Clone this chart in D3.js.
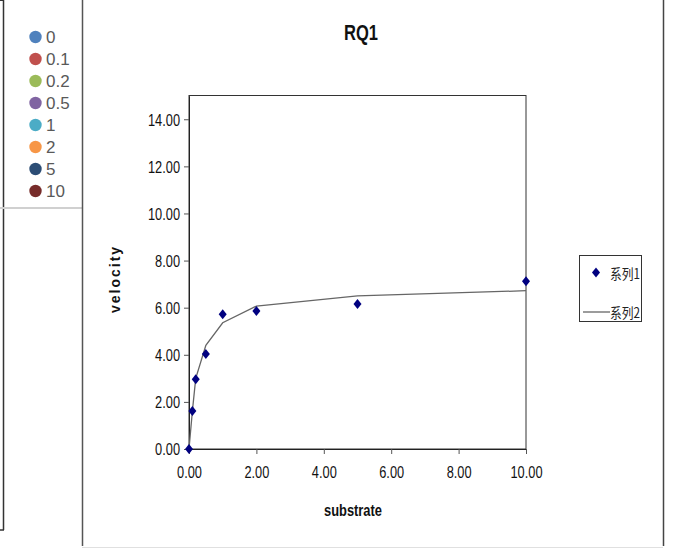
<!DOCTYPE html>
<html><head><meta charset="utf-8">
<script src="https://cdn.jsdelivr.net/npm/d3@7"></script>
<style>
body{margin:0;background:#fff;}
svg{display:block;}
</style></head>
<body><svg id="c" width="675" height="548"></svg>
<script>
const substrate = [0, 0.1, 0.2, 0.5, 1, 2, 5, 10];
const velocityObserved = [0, 1.61, 2.96, 4.03, 5.72, 5.86, 6.16, 7.12];
const velocityFit = [0, 1.6, 3.0, 4.4, 5.36, 6.07, 6.5, 6.72];
const legendLabels = ["0", "0.1", "0.2", "0.5", "1", "2", "5", "10"];
const legendColors = ["#4F81BD", "#C0504D", "#9BBB59", "#8064A2", "#4BACC6", "#F79646", "#2C4D75", "#772C2A"];
const xTicks = [0, 2, 4, 6, 8, 10];
const yTicks = [0, 2, 4, 6, 8, 10, 12, 14];
const seriesNames = ["系列1", "系列2"];

const svg = d3.select("#c");
const font = '"Liberation Sans Narrow","Arial Narrow","Liberation Sans",Arial,sans-serif';

function squeeze(sel, f){
  sel.each(function(){
    const w = this.getComputedTextLength();
    d3.select(this).attr("textLength", w*f).attr("lengthAdjust","spacingAndGlyphs");
  });
}

// frame lines
svg.append("line").attr("x1",3.5).attr("x2",3.5).attr("y1",0).attr("y2",530).attr("stroke","#333").attr("stroke-width",1.5);
svg.append("line").attr("x1",0).attr("x2",4).attr("y1",530).attr("y2",530).attr("stroke","#333").attr("stroke-width",1.5);
svg.append("line").attr("x1",0).attr("x2",4).attr("y1",0.5).attr("y2",0.5).attr("stroke","#333").attr("stroke-width",1);
svg.append("line").attr("x1",0).attr("x2",82).attr("y1",208).attr("y2",208).attr("stroke","#d0d0d0").attr("stroke-width",2);
svg.append("line").attr("x1",82.5).attr("x2",82.5).attr("y1",0).attr("y2",546).attr("stroke","#555").attr("stroke-width",1.5);
svg.append("line").attr("x1",663.5).attr("x2",663.5).attr("y1",0).attr("y2",546).attr("stroke","#444").attr("stroke-width",1.5);
svg.append("line").attr("x1",82).attr("x2",663).attr("y1",547.5).attr("y2",547.5).attr("stroke","#e0e0e0").attr("stroke-width",1);

// left legend
const lg = svg.append("g");
legendLabels.forEach((l,i)=>{
  const y = 37 + i*22;
  lg.append("circle").attr("cx",35.5).attr("cy",y).attr("r",6.2).attr("fill",legendColors[i]);
  lg.append("text").attr("x",46).attr("y",y+6).attr("font-family",'"Liberation Sans",Arial,sans-serif')
    .attr("font-size",17).attr("fill","#595959").text(l);
});

// plot
const x = d3.scaleLinear().domain([0,10]).range([189,526]);
const y = d3.scaleLinear().domain([0,15]).range([449,95.7]);

svg.append("rect").attr("x",189).attr("y",95.5).attr("width",337).attr("height",353.5)
  .attr("fill","none").attr("stroke","#333").attr("stroke-width",1);

const xAxis = svg.append("g").attr("transform","translate(0,449)")
  .call(d3.axisBottom(x).tickValues(xTicks).tickFormat(d3.format(".2f")).tickSize(5).tickSizeOuter(0));
const yAxis = svg.append("g").attr("transform","translate(189,0)")
  .call(d3.axisLeft(y).tickValues(yTicks).tickFormat(d3.format(".2f")).tickSize(5).tickSizeOuter(0));
[xAxis,yAxis].forEach(a=>{
  a.select(".domain").attr("stroke","#222");
  a.selectAll(".tick line").attr("stroke","#555");
  a.selectAll("text").attr("font-family",font).attr("font-size",16).attr("fill","#111");
});
xAxis.selectAll("text").attr("dy",null).attr("y",28.5);
yAxis.selectAll("text").attr("x",-9).attr("dy","0.36em");
squeeze(xAxis.selectAll("text"), 0.8);
squeeze(yAxis.selectAll("text"), 0.8);

// fit line
const line = d3.line().x((d,i)=>x(substrate[i])).y(d=>y(d));
svg.append("path").datum(velocityFit).attr("d",line).attr("fill","none").attr("stroke","#666").attr("stroke-width",1.3);

// markers
const diamond = (cx,cy)=>`M${cx},${cy-5}L${cx+4},${cy}L${cx},${cy+5}L${cx-4},${cy}Z`;
svg.append("g").selectAll("path").data(velocityObserved).join("path")
  .attr("d",(d,i)=>diamond(x(substrate[i]), y(d))).attr("fill","#000080");

// titles
const t1 = svg.append("text").attr("x",361).attr("y",40).attr("text-anchor","middle").attr("font-family",font)
  .attr("font-weight","bold").attr("font-size",22).attr("fill","#111").text("RQ1");
t1.attr("textLength",34).attr("lengthAdjust","spacingAndGlyphs");
const t2 = svg.append("text").attr("x",353).attr("y",516).attr("text-anchor","middle").attr("font-family",font)
  .attr("font-weight","bold").attr("font-size",17).attr("fill","#111").text("substrate");
t2.attr("textLength",58).attr("lengthAdjust","spacingAndGlyphs");
svg.append("text").attr("transform","translate(120,279) rotate(-90)").attr("text-anchor","middle")
  .attr("font-family",'"Liberation Sans",Arial,sans-serif').attr("font-weight","bold").attr("font-size",14)
  .attr("letter-spacing",2).attr("fill","#111").text("velocity");

// right legend
const rg = svg.append("g");
rg.append("rect").attr("x",579.5).attr("y",255.5).attr("width",62).attr("height",66).attr("fill","#fff").attr("stroke","#333");
rg.append("path").attr("d",diamond(596,272.5)).attr("fill","#000080");
rg.append("line").attr("x1",583).attr("x2",610).attr("y1",312).attr("y2",312).attr("stroke","#666").attr("stroke-width",1.3);
[278.5, 317.5].forEach((yy,i)=>{
  rg.append("text").attr("x",610).attr("y",yy).attr("font-family",'"Noto Sans CJK SC",sans-serif')
    .attr("font-size",14).attr("textLength",30).attr("lengthAdjust","spacingAndGlyphs").attr("fill","#222").text(seriesNames[i]);
});
</script></body></html>
